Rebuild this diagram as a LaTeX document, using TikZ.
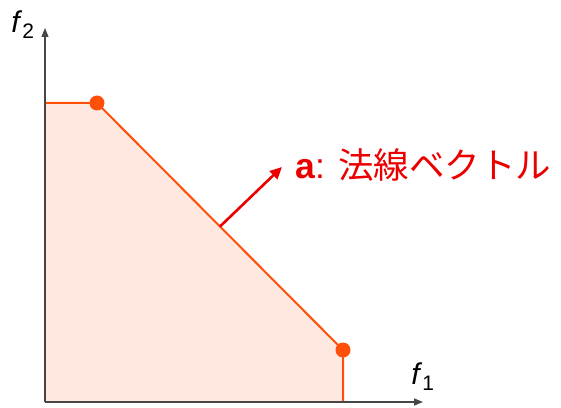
\documentclass[tikz,border=0pt]{standalone}
\usepackage{fontspec}
\setmainfont{Liberation Sans}
\newfontfamily\jpfont{Noto Sans CJK JP}
\usepackage{tikz}
\usetikzlibrary{arrows.meta,calc}
\definecolor{frontline}{RGB}{255,80,10}
\definecolor{frontfill}{RGB}{255,232,224}
\definecolor{axisgray}{RGB}{70,70,70}
\definecolor{normalred}{RGB}{235,0,0}

\begin{document}
\begin{tikzpicture}[x=1pt, y=1pt]
\useasboundingbox (0,0) rectangle (561,407);
% Feasible region
\coordinate (O) at (45,5);
\coordinate (c1) at (45,304);
\coordinate (p1) at (97,304);
\coordinate (p2) at (343,57);
\coordinate (c2) at (343,5);
\fill[frontfill] (O) -- (c1) -- (p1) -- (p2) -- (c2) -- cycle;
\draw[line width=2pt, frontline] (c1) -- (p1) -- (p2) -- (c2);
% Axes
\coordinate (xend) at (423,5);
\coordinate (yend) at (45,379);
\draw[line width=1.4pt, axisgray, -{Triangle[length=9pt, width=7pt]}] (O) -- (xend);
\draw[line width=1.4pt, axisgray, -{Triangle[length=9pt, width=7pt]}] (O) -- (yend);
\node (f1) at (423,30) {\fontsize{30}{30}\selectfont\textit{f}\textsubscript{1}};
\node (f2) at (23,382) {\fontsize{30}{30}\selectfont\textit{f}\textsubscript{2}};
% Pareto points
\fill[frontline] (p1) circle (7.5);
\fill[frontline] (p2) circle (7.5);
% Normal vector
\coordinate (foot) at ($(p1)!0.5!(p2)$);
\coordinate (tip) at (282,240);
\draw[line width=2.6pt, normalred, -{Triangle[length=12pt, width=11pt]}] (foot) -- (tip);
\node[anchor=west, text=normalred, inner sep=0pt] (lbl) at (295,242)
  {\fontsize{35.5}{36}\selectfont\textbf{a}: {\jpfont 法線ベクトル}};
\end{tikzpicture}
\end{document}
